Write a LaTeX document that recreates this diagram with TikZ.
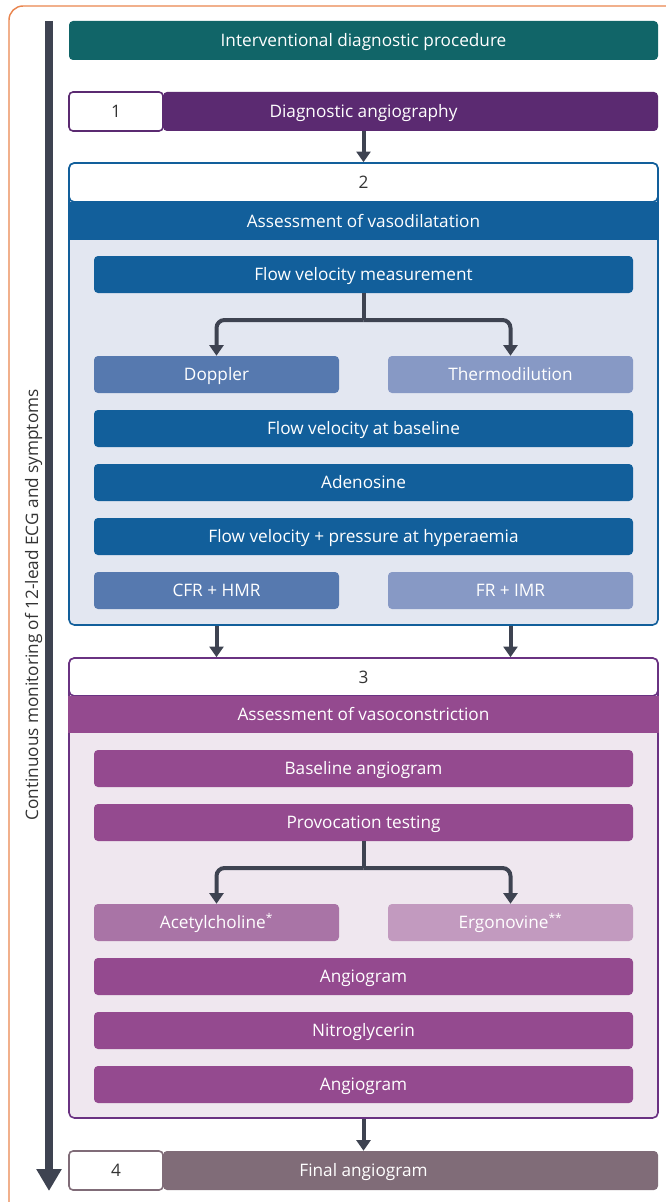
\documentclass[tikz,border=0pt]{standalone}
\usepackage{fontspec}
\setmainfont{Open Sans}
\usepackage{tikz}
\usetikzlibrary{arrows.meta,calc,positioning}

\definecolor{frameorange}{HTML}{E9854F}
\definecolor{arrowgray}{HTML}{3E4351}
\definecolor{procteal}{HTML}{116568}
\definecolor{angiopurple}{HTML}{5B2A71}
\definecolor{vasoblue}{HTML}{125F9B}
\definecolor{blueA}{HTML}{5679AF}
\definecolor{blueB}{HTML}{8799C5}
\definecolor{bluefill}{HTML}{E3E7F1}
\definecolor{conpurple}{HTML}{944A8F}
\definecolor{conborder}{HTML}{6A3282}
\definecolor{purpleA}{HTML}{A974A6}
\definecolor{purpleB}{HTML}{C29ABF}
\definecolor{purplefill}{HTML}{EFE7EF}
\definecolor{finalmauve}{HTML}{806C78}
\definecolor{numtext}{HTML}{333333}

\tikzset{
  boxfont/.style={font=\fontsize{12.9}{15}\selectfont, text height=9.2pt, text depth=0pt},
  bar/.style={rectangle, rounded corners=3pt, text=white, inner sep=0pt,
    boxfont, minimum height=27.75pt},
  fullbar/.style={bar, minimum width=441.75pt, minimum height=29.25pt},
  innerbar/.style={bar, minimum width=404.25pt},
  halfbar/.style={bar, minimum width=183.75pt},
  numbox/.style={rectangle, rounded corners=3pt, fill=white, draw=#1, line width=1.2pt,
    text=numtext, inner sep=0pt, boxfont,
    minimum width=70.5pt, minimum height=29.25pt},
  sidebar/.style={bar, minimum width=371.25pt, minimum height=29.25pt,
    label={[boxfont, text=white, xshift=-35.25pt]center:#1}},
  section/.style={rectangle, rounded corners=4pt, line width=1.2pt, draw=#1,
    minimum width=441.75pt, inner sep=0pt},
  branch/.style={draw=arrowgray, line width=3pt, rounded corners=6pt,
    -{Triangle[width=10.5pt,length=8pt]}},
}

\begin{document}
\begin{tikzpicture}[x=0.75pt, y=-0.75pt]
\useasboundingbox (0,0) rectangle (666,1202);
% frame
\draw[frameorange, line width=1.1pt] (9,1202) -- (9,20) arc[start angle=180, end angle=270, radius=14] -- (666,6);

% monitoring arrow
\coordinate (montop) at (49,21);
\coordinate (monend) at (49,1191);
\draw[arrowgray, line width=6pt, -{Triangle[width=18pt,length=16.5pt]}] (montop) -- (monend);
\node[rotate=90, text=numtext, boxfont] (monitor) at (32,605) {Continuous monitoring of 12-lead ECG and symptoms};

% step 0 and 1
\node[fullbar, fill=procteal] (proc) at (363.5,40.5) {Interventional diagnostic procedure};
\node[sidebar={Diagnostic angiography}, fill=angiopurple] (angio) at (410.5,111.5) {};
\node[numbox=angiopurple] (n1) at (116,111.5) {1};

% section 2
\node[section=vasoblue, fill=bluefill, minimum height=346.5pt] (sec2) at (363.5,394) {};
\node[section=vasoblue, fill=white, minimum height=29.25pt, text=numtext, boxfont] (h2) at (363.5,182.5) {2};
\node[bar, fill=vasoblue, rounded corners=0pt, minimum width=443pt, minimum height=28.5pt] (vaso) at (363.5,221) {Assessment of vasodilatation};
\node[innerbar, fill=vasoblue] (flowm) at (363.5,274.5) {Flow velocity measurement};
\node[halfbar, fill=blueA] (doppler) at (216.5,374.5) {Doppler};
\node[halfbar, fill=blueB] (thermo) at (510.5,374.5) {Thermodilution};
\node[innerbar, fill=vasoblue] (base) at (363.5,428.5) {Flow velocity at baseline};
\node[innerbar, fill=vasoblue] (aden) at (363.5,482.5) {Adenosine};
\node[innerbar, fill=vasoblue] (hyper) at (363.5,536.5) {Flow velocity + pressure at hyperaemia};
\node[halfbar, fill=blueA] (cfr) at (216.5,590.5) {CFR + HMR};
\node[halfbar, fill=blueB] (fr) at (510.5,590.5) {FR + IMR};

% section 3
\node[section=conborder, fill=purplefill, minimum height=345pt] (sec3) at (363.5,888) {};
\node[section=conborder, fill=white, minimum height=28.5pt, text=numtext, boxfont] (h3) at (363.5,677) {3};
\node[bar, fill=conpurple, rounded corners=0pt, minimum width=443pt, minimum height=27.75pt] (vcon) at (363.5,714.5) {Assessment of vasoconstriction};
\node[innerbar, fill=conpurple] (bang) at (363.5,768.5) {Baseline angiogram};
\node[innerbar, fill=conpurple] (prov) at (363.5,822.5) {Provocation testing};
\node[halfbar, fill=purpleA] (ach) at (216.5,922.5) {Acetylcholine\textsuperscript{*}};
\node[halfbar, fill=purpleB] (ergo) at (510.5,922.5) {Ergonovine\textsuperscript{**}};
\node[innerbar, fill=conpurple] (ang1) at (363.5,976.5) {Angiogram};
\node[innerbar, fill=conpurple] (nitro) at (363.5,1030.5) {Nitroglycerin};
\node[innerbar, fill=conpurple] (ang2) at (363.5,1084.5) {Angiogram};

% step 4
\node[sidebar={Final angiogram}, fill=finalmauve] (fin) at (410.5,1170.5) {};
\node[numbox=finalmauve] (n4) at (116,1170.5) {4};

% connectors
\coordinate (fork2) at (363.5,320);
\coordinate (fork3) at (363.5,868);
\draw[branch] (h2.north |- angio.south) -- (h2.north);
\draw[branch, -] (flowm.south) -- (fork2);
\draw[branch] (fork2) -| (doppler.north);
\draw[branch] (fork2) -| (thermo.north);
\draw[branch] (cfr.south |- sec2.south) -- (cfr.south |- sec3.north);
\draw[branch] (fr.south |- sec2.south) -- (fr.south |- sec3.north);
\draw[branch, -] (prov.south) -- (fork3);
\draw[branch] (fork3) -| (ach.north);
\draw[branch] (fork3) -| (ergo.north);
\draw[branch] (sec3.south) -- (sec3.south |- fin.north);
\end{tikzpicture}
\end{document}
